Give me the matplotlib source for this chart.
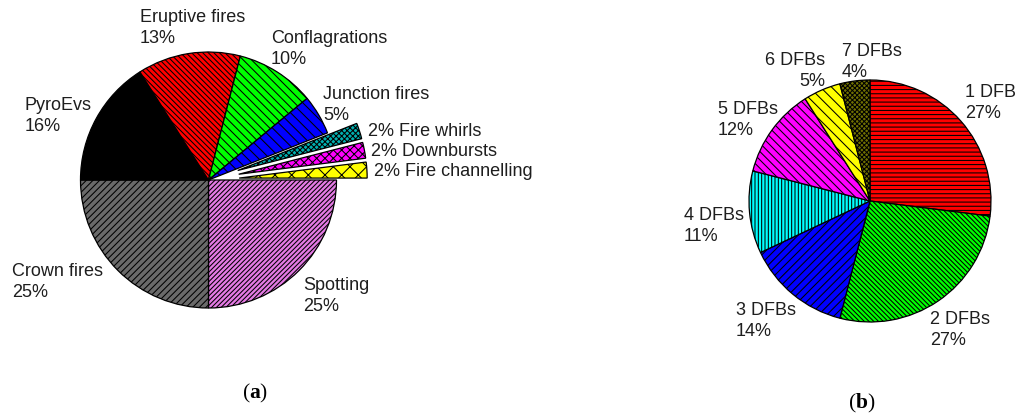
import matplotlib
matplotlib.use("Agg")
from matplotlib import pyplot as plt

W, H = 1015, 414
DPI = 100
FONT_SIZE = 13
TEXT_COLOR = "#1e1e1e"

# (a) fire behaviour categories, clockwise from 3 o'clock
FIRE_NAMES = ["Spotting", "Crown fires", "PyroEvs", "Eruptive fires", "Conflagrations",
              "Junction fires", "Fire whirls", "Downbursts", "Fire channelling"]
FIRE_PCT = [25, 25, 16, 13, 10, 5, 2, 2, 2]
FIRE_EXPLODE = [0, 0, 0, 0, 0, 0, 0.24, 0.24, 0.24]
FIRE_COLORS = ["#e47ae4", "#6a6a6a", "#000000", "#ff0000", "#00ff00",
               "#0000ff", "#00b0b0", "#ff00ff", "#ffff00"]
FIRE_HATCH = ["/" * 7, "/" * 5, "", "\\" * 6, "\\" * 4,
              "\\" * 3, "x" * 6, "x" * 4, "x" * 2]

# (b) number of DFBs, clockwise from 12 o'clock
DFB_NAMES = ["1 DFB", "2 DFBs", "3 DFBs", "4 DFBs", "5 DFBs", "6 DFBs", "7 DFBs"]
DFB_PCT = [27, 27, 14, 11, 12, 5, 4]
DFB_COLORS = ["#ff0000", "#00ff00", "#0000ff", "#00ffff", "#ff00ff", "#ffff00", "#707000"]
DFB_HATCH = ["-" * 4, "\\" * 7, "/" * 4, "|" * 5, "\\" * 4, "\\" * 3, "x" * 7]

plt.rcParams.update({
    "font.family": ["Liberation Sans", "DejaVu Sans"],
    "font.size": FONT_SIZE,
    "hatch.linewidth": 0.75,
    "mathtext.fontset": "custom",
    "mathtext.rm": "Liberation Serif",
    "mathtext.bf": "Liberation Serif:bold",
})

fig = plt.figure(figsize=(W / DPI, H / DPI), dpi=DPI)


def pie_axes(cx, cy, r, half=1.5):
    # square axes whose unit circle is r pixels around (cx, cy), measured from the top left
    ax = fig.add_axes([(cx - half * r) / W, 1 - (cy + half * r) / H,
                       2 * half * r / W, 2 * half * r / H])
    return ax


def draw_pie(ax, values, colors, hatches, start, explode=None, half=1.5):
    wedges, _ = ax.pie(values, colors=colors, startangle=start, counterclock=False,
                       explode=explode, radius=1,
                       wedgeprops=dict(edgecolor="black", linewidth=0.9))
    for w, h in zip(wedges, hatches):
        w.set_hatch(h)
    ax.set_xlim(-half, half)
    ax.set_ylim(-half, half)
    ax.axis("off")


def label(x, y, s, **kw):
    kw.setdefault("va", "top")
    kw.setdefault("ha", "left")
    fig.text(x / W, 1 - y / H, s, color=TEXT_COLOR, linespacing=1.32, **kw)


ax_a = pie_axes(208.5, 181, 128)
draw_pie(ax_a, FIRE_PCT, FIRE_COLORS, FIRE_HATCH, 0, FIRE_EXPLODE)

ax_b = pie_axes(870, 202, 121)
draw_pie(ax_b, DFB_PCT, DFB_COLORS, DFB_HATCH, 90)

fire_txt = [f"{n}\n{p}%" for n, p in zip(FIRE_NAMES, FIRE_PCT)]
label(303, 277, fire_txt[0])
label(12, 263, fire_txt[1])
label(25, 97, fire_txt[2])
label(140, 9, fire_txt[3])
label(271, 30, fire_txt[4])
label(323, 86, fire_txt[5])
for i, y in zip(range(6, 9), [132, 152, 172]):
    label(368 + 3 * (i - 6), y, f"{FIRE_PCT[i]}% {FIRE_NAMES[i]}", va="center")

dfb_txt = [f"{n}\n{p}%" for n, p in zip(DFB_NAMES, DFB_PCT)]
label(965, 84, dfb_txt[0])
label(930, 311, dfb_txt[1])
label(736, 302, dfb_txt[2])
label(684, 207, dfb_txt[3])
label(718, 101, dfb_txt[4])
label(825, 52, dfb_txt[5], ha="right", multialignment="right")
label(842, 43, dfb_txt[6])

fig.text(255 / W, 1 - 393 / H, r"$(\mathbf{a})$", ha="center", va="center",
         fontsize=15.5, color="black")
fig.text(862 / W, 1 - 403 / H, r"$(\mathbf{b})$", ha="center", va="center",
         fontsize=15.5, color="black")

fig.savefig("out.png", dpi=DPI)
